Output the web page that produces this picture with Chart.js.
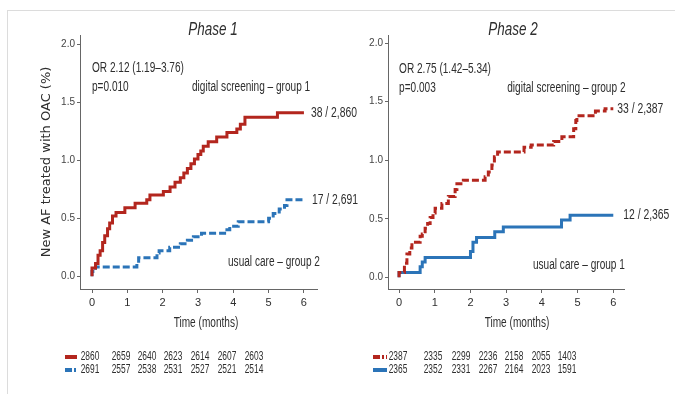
<!DOCTYPE html>
<html lang="en">
<head>
<meta charset="UTF-8">
<title>New AF treated with OAC</title>
<script src="https://cdn.jsdelivr.net/npm/chart.js"></script>
<style>
  body { margin: 0; background: #fff; }
  #wrap { position: relative; width: 675px; height: 394px; overflow: hidden; }
  #frame { position: absolute; left: 7px; top: 10px; width: 700px; height: 400px;
           border-top: 1px solid #dcdcdc; border-left: 1px solid #dcdcdc; }
  canvas { position: absolute; top: 0; }
  #phase1 { left: 0; }
  #phase2 { left: 330px; }
</style>
</head>
<body>
<div id="wrap">
  <div id="frame"></div>
  <canvas id="phase1" width="370" height="394"></canvas>
  <canvas id="phase2" width="345" height="394"></canvas>
</div>
<script>
// axis ticks
var months = [0, 1, 2, 3, 4, 5, 6];
var pctTicks = [0, 0.5, 1.0, 1.5, 2.0];

// Phase 1 cumulative curves (time in months, % treated)
var p1DigitalTime = [0, 0.1, 0.17, 0.23, 0.3, 0.36, 0.44, 0.5, 0.58, 0.68, 0.93, 1.22, 1.55, 1.64, 2.02, 2.21, 2.35, 2.5, 2.6, 2.7, 2.8, 2.9, 3.0, 3.08, 3.15, 3.29, 3.53, 3.82, 4.1, 4.2, 4.33, 5.25, 5.51, 6.0];
var p1DigitalPct  = [0, 0.07, 0.11, 0.18, 0.22, 0.29, 0.35, 0.41, 0.46, 0.52, 0.55, 0.59, 0.63, 0.66, 0.7, 0.73, 0.77, 0.81, 0.85, 0.89, 0.93, 0.97, 1.01, 1.05, 1.08, 1.12, 1.16, 1.2, 1.24, 1.27, 1.31, 1.37, 1.41, 1.41];
var p1UsualTime = [0, 0.1, 1.27, 1.32, 1.84, 1.9, 2.2, 2.5, 2.7, 2.87, 3.1, 3.82, 3.9, 4.14, 5.0, 5.13, 5.3, 5.45, 5.52, 5.74, 6.0];
var p1UsualPct  = [0, 0.04, 0.08, 0.11, 0.16, 0.2, 0.22, 0.25, 0.28, 0.31, 0.34, 0.37, 0.4, 0.43, 0.47, 0.5, 0.54, 0.58, 0.61, 0.66, 0.66];

// Phase 2 cumulative curves
var p2DigitalTime = [0, 0.15, 0.22, 0.3, 0.36, 0.59, 0.65, 0.73, 0.8, 0.87, 0.95, 1.01, 1.2, 1.38, 1.57, 1.62, 1.8, 2.41, 2.5, 2.6, 2.67, 2.76, 3.5, 3.7, 4.33, 4.56, 4.89, 4.95, 4.98, 5.5, 5.77, 5.9, 6.0];
var p2DigitalPct  = [0, 0.04, 0.12, 0.2, 0.25, 0.3, 0.35, 0.37, 0.42, 0.46, 0.51, 0.55, 0.59, 0.63, 0.69, 0.75, 0.8, 0.83, 0.86, 0.9, 0.96, 1.03, 1.07, 1.11, 1.13, 1.16, 1.2, 1.27, 1.34, 1.38, 1.42, 1.44, 1.44];
var p2UsualTime = [0, 0.59, 0.65, 0.73, 2.0, 2.07, 2.17, 2.68, 2.92, 4.55, 4.79, 5.25, 6.0];
var p2UsualPct  = [0, 0.04, 0.09, 0.13, 0.17, 0.22, 0.3, 0.34, 0.39, 0.43, 0.49, 0.53, 0.53];

// numbers at risk
var p1AtRiskDigital = [2860, 2659, 2640, 2623, 2614, 2607, 2603];
var p1AtRiskUsual   = [2691, 2557, 2538, 2531, 2527, 2521, 2514];
var p2AtRiskDigital = [2387, 2335, 2299, 2236, 2158, 2055, 1403];
var p2AtRiskUsual   = [2365, 2352, 2331, 2267, 2164, 2023, 1591];

// events / patients at the end of each curve
var p1EndLabels = ['38 / 2,860', '17 / 2,691'];
var p2EndLabels = ['33 / 2,387', '12 / 2,365'];

var SANS = '"Liberation Sans", Arial, sans-serif';
var SQUEEZE = 0.72;   // the original text face is a narrow one
var RED = '#b3261e';
var BLUE = '#2b74b8';
var TEXT = '#2e2e2e';

Chart.defaults.font.family = SANS;
Chart.defaults.color = TEXT;

function kmPoints(t, v) {
  return t.map(function (x, i) { return { x: x, y: v[i] }; });
}

function narrowText(ctx, text, x, y, align, sx) {
  ctx.save();
  ctx.translate(x, y);
  ctx.scale(sx || SQUEEZE, 1);
  ctx.textAlign = align;
  ctx.fillText(text, 0, 0);
  ctx.restore();
}

// per-panel text layout, looked up by canvas id
var panels = {
  phase1: {
    title: 'Phase 1', titleX: 213, axisTitleX: 206,
    notes: [
      { text: 'OR 2.12 (1.19\u20133.76)', x: 0, y: 1.79 },
      { text: 'p=0.010', x: 0, y: 1.63 },
      { text: 'digital screening \u2013 group 1', x: 2.83, y: 1.63 },
      { text: 'usual care \u2013 group 2', x: 3.85, y: 0.12 }
    ],
    ends: p1EndLabels, endDx: [7, 8],
    table: {
      rows: [
        { values: p1AtRiskDigital, color: RED, dash: [] },
        { values: p1AtRiskUsual, color: BLUE, dash: [7, 2, 2, 2] }
      ],
      swatch: [65, 77], cols: [90, 121, 147, 173, 200, 227, 254], y: [357, 370]
    }
  },
  phase2: {
    title: 'Phase 2', titleX: 183, axisTitleX: 187,
    notes: [
      { text: 'OR 2.75 (1.42\u20135.34)', x: 0, y: 1.78 },
      { text: 'p=0.003', x: 0, y: 1.62 },
      { text: 'digital screening \u2013 group 2', x: 3.03, y: 1.62 },
      { text: 'usual care \u2013 group 1', x: 3.75, y: 0.1 }
    ],
    ends: p2EndLabels, endDx: [4, 10],
    table: {
      rows: [
        { values: p2AtRiskDigital, color: RED, dash: [7, 2, 2, 2] },
        { values: p2AtRiskUsual, color: BLUE, dash: [] }
      ],
      swatch: [43, 57], cols: [68, 103, 131, 158, 184, 211, 237], y: [357, 370]
    }
  }
};

var panelText = {
  id: 'panelText',
  afterDraw: function (chart) {
    var o = panels[chart.canvas.id];
    var ctx = chart.ctx, xs = chart.scales.x, ys = chart.scales.y;
    ctx.save();
    ctx.fillStyle = TEXT;
    ctx.textBaseline = 'middle';

    ctx.font = 'italic 19px ' + SANS;
    narrowText(ctx, o.title, o.titleX, 30, 'center', 0.71);

    ctx.font = '14px ' + SANS;
    narrowText(ctx, 'Time (months)', o.axisTitleX, 323, 'center');

    o.notes.forEach(function (n) {
      narrowText(ctx, n.text, xs.getPixelForValue(n.x), ys.getPixelForValue(n.y), 'left');
    });

    chart.data.datasets.forEach(function (ds, i) {
      var pts = chart.getDatasetMeta(i).data;
      var p = pts[pts.length - 1];
      narrowText(ctx, o.ends[i], p.x + o.endDx[i], p.y, 'left', 0.74);
    });

    // numbers at risk
    ctx.font = '12px ' + SANS;
    o.table.rows.forEach(function (row, r) {
      var y = o.table.y[r];
      ctx.strokeStyle = row.color;
      ctx.lineWidth = 4;
      ctx.setLineDash(row.dash);
      ctx.beginPath();
      ctx.moveTo(o.table.swatch[0], y);
      ctx.lineTo(o.table.swatch[1], y);
      ctx.stroke();
      row.values.forEach(function (v, c) {
        narrowText(ctx, String(v), o.table.cols[c], y, 'center', 0.7);
      });
    });
    ctx.restore();
  }
};

function makeChart(id, digital, usual, yWidth, rightPad, xRange, yRange, showYTitle) {
  var ctx = document.getElementById(id).getContext('2d');
  return new Chart(ctx, {
    type: 'line',
    data: {
      datasets: [
        {
          label: 'digital screening',
          data: digital.data,
          borderColor: RED,
          borderWidth: 3,
          borderDash: digital.dash,
          stepped: 'after',
          pointRadius: 0,
          fill: false
        },
        {
          label: 'usual care',
          data: usual.data,
          borderColor: BLUE,
          borderWidth: 3,
          borderDash: usual.dash,
          stepped: 'after',
          pointRadius: 0,
          fill: false
        }
      ]
    },
    options: {
      responsive: false,
      animation: false,
      devicePixelRatio: 1,
      layout: { padding: { left: 0, top: 35, right: rightPad, bottom: 60 } },
      plugins: {
        legend: { display: false },
        tooltip: { enabled: false }
      },
      scales: {
        x: {
          type: 'linear',
          min: xRange[0],
          max: xRange[1],
          afterBuildTicks: function (s) { s.ticks = months.map(function (v) { return { value: v }; }); },
          afterFit: function (s) { s.height = 45; },
          ticks: { font: { size: 11 }, color: TEXT, padding: 3, maxRotation: 0, autoSkip: false },
          grid: { drawOnChartArea: false, tickLength: 4, color: '#666' },
          border: { color: '#666', width: 1 }
        },
        y: {
          min: yRange[0],
          max: yRange[1],
          afterBuildTicks: function (s) { s.ticks = pctTicks.map(function (v) { return { value: v }; }); },
          afterFit: function (s) { s.width = yWidth; },
          ticks: {
            font: { size: 10 }, color: '#444', padding: 2,
            callback: function (v) { return Number(v).toFixed(1); }
          },
          grid: { drawOnChartArea: false, tickLength: 3, color: '#666' },
          border: { color: '#666', width: 1 },
          title: {
            display: showYTitle,
            text: 'New AF treated with OAC (%)',
            font: { family: '"DejaVu Sans", Verdana, sans-serif', size: 13 },
            color: TEXT,
            padding: { top: 39, bottom: 0 }
          }
        }
      }
    },
    plugins: [panelText]
  });
}

makeChart('phase1',
  { data: kmPoints(p1DigitalTime, p1DigitalPct), dash: [] },
  { data: kmPoints(p1UsualTime, p1UsualPct), dash: [7, 3] },
  80, 53, [-0.34, 6.37], [-0.11, 2.08], true);

makeChart('phase2',
  { data: kmPoints(p2DigitalTime, p2DigitalPct), dash: [7, 3] },
  { data: kmPoints(p2UsualTime, p2UsualPct), dash: [] },
  58, 51, [-0.31, 6.3], [-0.1, 2.07], false);
</script>
</body>
</html>
